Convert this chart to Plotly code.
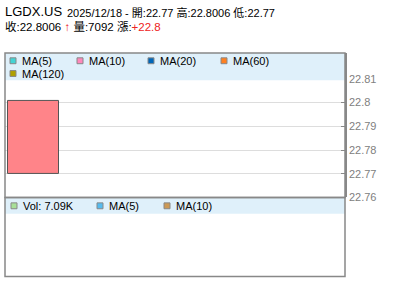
import plotly.graph_objects as go

# ---- data ----
symbol = "LGDX.US"
date = "2025/12/18"
dates = [date]
opens = [22.77]
highs = [22.8006]
lows = [22.77]
closes = [22.8006]
volumes = [7092]
change_text = "+22.8"
price_ticks = [22.76, 22.77, 22.78, 22.79, 22.8, 22.81]
price_tick_labels = ["22.76", "22.77", "22.78", "22.79", "22.8", "22.81"]
ma_labels = ["MA(5)", "MA(10)", "MA(20)", "MA(60)", "MA(120)"]
ma_colors = ["#44d4d4", "#ff88bb", "#0066b8", "#ff8020", "#b0a000"]
vol_labels = ["Vol: 7.09K", "MA(5)", "MA(10)"]
vol_colors = ["#a8e098", "#55bbee", "#cc9955"]

W, H = 400, 301
def px(x):
    return x / W
def py(y):
    return 1 - y / H

FONT = "Liberation Sans, Arial, Noto Sans CJK TC, sans-serif"

fig = go.Figure()
fig.add_trace(go.Bar(
    x=[0], y=[closes[0] - opens[0]], base=[opens[0]], width=[1],
    marker=dict(color="#ff8489", line=dict(color="#555555", width=1)),
    xaxis="x", yaxis="y", showlegend=False, hoverinfo="skip",
))

shapes = []
annotations = []
# legend bands
shapes.append(dict(type="rect", xref="paper", yref="paper", x0=px(5), x1=px(345),
                   y0=py(82), y1=py(54), fillcolor="#dff0fa", line=dict(width=0), layer="above"))
shapes.append(dict(type="rect", xref="paper", yref="paper", x0=px(5), x1=px(345),
                   y0=py(218), y1=py(202), fillcolor="#dff0fa", line=dict(width=0), layer="above"))
# frames
for (y0, y1) in [(54, 201.5), (201.5, 282)]:
    shapes.append(dict(type="rect", xref="paper", yref="paper", x0=px(5), x1=px(345),
                       y0=py(y1), y1=py(y0), line=dict(color="#888888", width=1.5), layer="above"))

# MA legend
ma_pos = [(10, 62), (77, 62), (148, 62), (221, 62), (10, 75)]
for (lab, col, (x, y)) in zip(ma_labels, ma_colors, ma_pos):
    shapes.append(dict(type="rect", xref="paper", yref="paper", x0=px(x), x1=px(x + 6),
                       y0=py(y + 3), y1=py(y - 3), fillcolor=col,
                       line=dict(color="#888888", width=1), layer="above"))
    annotations.append(dict(xref="paper", yref="paper", x=px(x + 10), y=py(y), text=lab,
                            showarrow=False, xanchor="left", yanchor="middle",
                            font=dict(family=FONT, size=11, color="#000")))
vol_pos = [(11, 210), (97, 210), (164, 210)]
for (lab, col, (x, y)) in zip(vol_labels, vol_colors, vol_pos):
    shapes.append(dict(type="rect", xref="paper", yref="paper", x0=px(x), x1=px(x + 6),
                       y0=py(y + 3), y1=py(y - 3), fillcolor=col,
                       line=dict(color="#888888", width=1), layer="above"))
    annotations.append(dict(xref="paper", yref="paper", x=px(x + 10), y=py(y), text=lab,
                            showarrow=False, xanchor="left", yanchor="middle",
                            font=dict(family=FONT, size=11, color="#000")))

# title
annotations.append(dict(xref="paper", yref="paper", x=px(3), y=py(12), text=symbol,
                        showarrow=False, xanchor="left", yanchor="middle",
                        font=dict(family=FONT, size=13, color="#000")))
line1 = f"{date} - 開:{opens[0]:g} 高:{highs[0]:g} 低:{lows[0]:g}"
annotations.append(dict(xref="paper", yref="paper", x=px(65), y=py(13), text=line1,
                        showarrow=False, xanchor="left", yanchor="middle",
                        font=dict(family=FONT, size=11, color="#000")))
line2 = (f"收:{closes[0]:g}<span style='color:#ee2222'><b> ↑ </b></span>"
         f"量:{volumes[0]} 漲:<span style='color:#ee2222'>{change_text}</span>")
annotations.append(dict(xref="paper", yref="paper", x=px(3), y=py(27), text=line2,
                        showarrow=False, xanchor="left", yanchor="middle",
                        font=dict(family=FONT, size=11.5, color="#000")))

top_val = 22.76 + (201.5 - 54) / 2420
fig.update_layout(
    width=W, height=H, margin=dict(l=0, r=0, t=0, b=0),
    paper_bgcolor="white", plot_bgcolor="white",
    showlegend=False, bargap=0,
    xaxis=dict(domain=[px(5), px(345)], range=[-0.5588, 6.108], visible=False, fixedrange=True),
    yaxis=dict(domain=[py(201.5), py(54)], range=[22.76, top_val], side="right",
               tickvals=price_ticks, ticktext=price_tick_labels,
               tickfont=dict(family=FONT, size=11, color="#808080"),
               ticks="inside", ticklen=4, tickcolor="#888888",
               showgrid=True, gridcolor="#dddddd", gridwidth=1,
               showline=True, linecolor="#888888", linewidth=1.5, zeroline=False),
    xaxis2=dict(domain=[px(5), px(345)], range=[-0.5588, 6.108], visible=False, anchor="y2"),
    yaxis2=dict(domain=[py(282), py(201.5)], range=[0, 1], visible=False, anchor="x2"),
    shapes=shapes, annotations=annotations,
)
fig.add_trace(go.Scatter(x=[None], y=[None], xaxis="x2", yaxis="y2", showlegend=False))

fig.write_html("out.html")
